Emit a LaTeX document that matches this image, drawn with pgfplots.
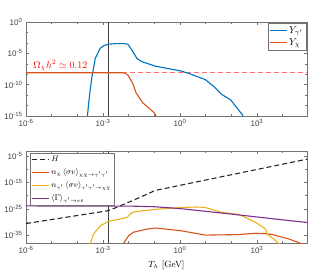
\documentclass[border=0pt]{standalone}
\usepackage{fontspec}
\setsansfont{Liberation Sans}
\usepackage{pgfplots}
\pgfplotsset{compat=1.18}
\definecolor{mblue}{rgb}{0,0.447,0.741}
\definecolor{morange}{rgb}{0.85,0.325,0.098}
\definecolor{myellow}{rgb}{0.929,0.694,0.125}
\definecolor{mpurple}{rgb}{0.494,0.184,0.556}
\newcommand{\tl}[1]{\textsf{10\textsuperscript{#1}}}
\pgfplotsset{mstyle/.style={
  scale only axis, width=281pt,
  xmin=1e-6, xmax=8.91e4,
  axis line style={black!55, line width=0.5pt},
  every tick/.style={black!55, line width=0.4pt},
  major tick length=3pt, minor tick length=1.8pt,
  tick align=inside,
  xtick={1e-6,1e-3,1,1e3}, xticklabels={\tl{-6},\tl{-3},\tl{0},\tl{3}},
  minor xtick={1e-5,1e-4,1e-2,1e-1,10,100,1e4},
  tick label style={font=\fontsize{8}{9}\selectfont, text=black!75},
  legend cell align=left,
  legend style={draw=black!55, line width=0.4pt, fill=white, inner sep=1pt},
}}
\begin{document}
\begin{tikzpicture}
\useasboundingbox (0,0) rectangle (310pt,275pt);
% ---------------- top panel
\begin{axis}[xmode=log, ymode=log, log basis x=10, log basis y=10, mstyle,
  at={(26pt,159pt)}, anchor=south west, height=94pt,
  ymin=1e-15, ymax=1,
  ytick={1e-15,1e-10,1e-5,1}, yticklabels={\tl{-15},\tl{-10},\tl{-5},\tl{0}},
  minor ytick={2.154e-2,4.64e-4,2.154e-7,4.64e-9,2.154e-12,4.64e-14},
  legend style={at={(1,1)}, anchor=north east, xshift=-1pt, yshift=-1pt, font=\normalsize}]
\addplot[red!55, dash pattern=on 5pt off 3pt, line width=0.8pt, forget plot] coordinates {(1e-6,7.94e-9) (8.91e4,7.94e-9)};
\addplot[black!75, line width=0.8pt, forget plot] coordinates {(1.62e-3,1e-15) (1.62e-3,1)};
\addplot[mblue, line width=1.1pt] coordinates {
(2.40e-4,3.16e-16) (2.95e-4,1.26e-12) (3.72e-4,2.0e-9) (5.01e-4,1.58e-6) (7.76e-4,6.31e-5)
(1.12e-3,1.78e-4) (1.62e-3,2.82e-4) (3.16e-3,3.55e-4) (6.31e-3,3.63e-4) (9.33e-3,2.82e-4)
(1.35e-2,3.16e-5) (2.09e-2,1.58e-6) (3.16e-2,5.01e-7) (5.13e-2,2.51e-7) (0.110,8.91e-8)
(1.047,1.58e-8) (2.19,6.31e-9) (9.77,6.31e-10) (20.9,5.01e-11) (43.7,2.51e-12)
(93.3,3.98e-13) (269,1.58e-15) (295,6.31e-16)};
\addlegendentry{$Y_{\gamma'}$}
\addplot[morange, line width=1.1pt] coordinates {
(1e-6,7.94e-9) (6.31e-3,7.94e-9) (9.33e-3,3.55e-9) (1.45e-2,1.58e-10) (1.95e-2,5.01e-12)
(3.55e-2,1.26e-13) (0.1,3.16e-15) (0.126,5.01e-16)};
\addlegendentry{$Y_\chi$}
\node[red, anchor=base west, inner sep=0pt, font=\normalsize] at (axis cs:1.9e-6,4e-8) {$\Omega_\chi h^2\simeq 0.12$};
\end{axis}
% ---------------- bottom panel
\begin{axis}[xmode=log, ymode=log, log basis x=10, log basis y=10, mstyle,
  at={(26pt,32pt)}, anchor=south west, height=92pt,
  ymin=1e-38, ymax=1e-3,
  ytick={1e-35,1e-25,1e-15,1e-5}, yticklabels={\tl{-35},\tl{-25},\tl{-15},\tl{-5}},
  minor ytick={1e-30,1e-20,1e-10},
  xlabel={$T_h$ [GeV]}, xlabel style={font=\small},
  legend style={at={(0,1)}, anchor=north west, xshift=4pt, yshift=-2pt,
    font=\fontsize{7.6}{8.5}\selectfont, row sep=1.5pt}]
\addplot[black!75, line width=0.8pt, forget plot] coordinates {(1.62e-3,1e-38) (1.62e-3,1e-3)};
\addplot[black!85, dash pattern=on 5pt off 3pt, line width=1.1pt] coordinates {
(1e-6,2.51e-31) (1.62e-3,2.0e-26) (4.68e-3,1.26e-24) (2.51e-2,1.58e-21) (0.1096,1e-18) (8.91e4,7.94e-7)};
\addlegendentry{$H$}
\addplot[morange, line width=1.1pt] coordinates {
(6.03e-3,3.16e-39) (1e-2,6.31e-36) (1.55e-2,1.26e-34) (5.13e-2,2.0e-33) (0.1096,5.01e-33)
(1.047,5.01e-34) (9.77,1e-35) (195,1.58e-35) (891,5.01e-35) (1995,3.98e-35) (3981,1.58e-35)
(17783,3.16e-37) (63096,3.16e-39)};
\addlegendentry{$n_\chi\,\langle\sigma v\rangle_{\chi\bar\chi\to\gamma'\gamma'}$}
\addplot[myellow, line width=1.1pt] coordinates {
(3.16e-4,3.16e-39) (4.27e-4,2.51e-35) (7.76e-4,3.16e-32) (1.62e-3,1.58e-30) (8.51e-3,5.01e-29)
(1.35e-2,3.98e-27) (2.09e-2,1e-26) (0.1096,6.31e-26) (1.047,3.16e-25) (4.68,5.01e-25)
(9.77,3.16e-25) (43.7,3.98e-27) (195,7.94e-28) (891,6.31e-31) (2188,2.0e-33) (2512,2.51e-35)
(4571,3.16e-37) (7586,3.16e-39)};
\addlegendentry{$n_{\gamma'}\,\langle\sigma v\rangle_{\gamma'\gamma'\to\chi\bar\chi}$}
\addplot[mpurple, line width=1.1pt] coordinates {
(1e-6,1.26e-24) (1e-2,1.12e-24) (0.1,6.31e-25) (1,1.26e-25) (10,1.12e-26) (100,1e-27)
(1000,7.94e-29) (1e4,6.31e-30) (8.91e4,6.31e-31)};
\addlegendentry{$\langle\Gamma\rangle_{\gamma'\to e\bar e}$}
\end{axis}
\end{tikzpicture}
\end{document}
